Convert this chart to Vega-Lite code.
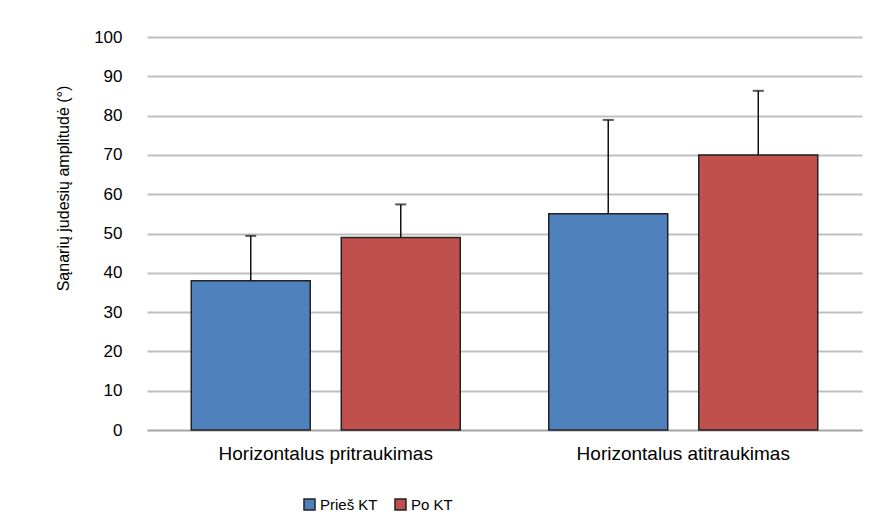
{
  "$schema": "https://vega.github.io/schema/vega-lite/v6.json",
  "width": 715,
  "height": 393,
  "autosize": "none",
  "padding": {"left": 147, "top": 37, "right": 18, "bottom": 102},
  "background": "white",
  "config": {
    "view": {"stroke": null},
    "font": "Liberation Sans",
    "axisY": {
      "values": [0, 10, 20, 30, 40, 50, 60, 70, 80, 90, 100],
      "tickCount": 20,
      "labelOverlap": false,
      "labelFontSize": 17,
      "labelColor": "#000000",
      "labelPadding": 25,
      "ticks": false,
      "domain": false,
      "grid": true,
      "gridColor": "#BFBFBF",
      "gridWidth": 2,
      "titleFontSize": 16,
      "titleFontWeight": "normal",
      "titleColor": "#000000",
      "titlePadding": 22,
      "titleY": 151
    }
  },
  "data": {
    "values": [
      {"group": "Horizontalus pritraukimas", "series": "Prieš KT", "value": 38, "upper": 49.4},
      {"group": "Horizontalus pritraukimas", "series": "Po KT", "value": 49, "upper": 57.4},
      {"group": "Horizontalus atitraukimas", "series": "Prieš KT", "value": 55, "upper": 78.9},
      {"group": "Horizontalus atitraukimas", "series": "Po KT", "value": 70, "upper": 86.3}
    ]
  },
  "encoding": {
    "x": {
      "field": "group",
      "type": "nominal",
      "sort": ["Horizontalus pritraukimas", "Horizontalus atitraukimas"],
      "scale": {"paddingInner": 0, "paddingOuter": 0},
      "axis": {
        "title": null,
        "labelAngle": 0,
        "labelFontSize": 19,
        "labelColor": "#000000",
        "labelPadding": 14,
        "labelLimit": 0,
        "ticks": false,
        "domain": true,
        "domainColor": "#A6A6A6",
        "domainWidth": 1.5,
        "grid": false
      }
    },
    "xOffset": {
      "field": "series",
      "type": "nominal",
      "sort": ["Prieš KT", "Po KT"],
      "scale": {"paddingInner": 0.207, "paddingOuter": 0.295}
    }
  },
  "layer": [
    {
      "mark": {"type": "bar", "stroke": "#222222", "strokeWidth": 1.5},
      "encoding": {
        "y": {
          "field": "value",
          "type": "quantitative",
          "scale": {"domain": [0, 100], "nice": false},
          "axis": {
            "title": "Sąnarių judesių amplitudė (°)",
            "values": [0, 10, 20, 30, 40, 50, 60, 70, 80, 90, 100],
            "tickCount": 20
          }
        },
        "color": {
          "field": "series",
          "type": "nominal",
          "sort": ["Prieš KT", "Po KT"],
          "scale": {"domain": ["Prieš KT", "Po KT"], "range": ["#4F81BD", "#C0504D"]},
          "legend": {
            "title": null,
            "orient": "none",
            "direction": "horizontal",
            "legendX": 155,
            "legendY": 460,
            "symbolType": "square",
            "symbolSize": 121,
            "symbolStrokeColor": "#222222",
            "symbolStrokeWidth": 1.5,
            "symbolOpacity": 1,
            "labelFontSize": 15,
            "labelColor": "#000000",
            "columnPadding": 14,
            "labelOffset": 3
          }
        }
      }
    },
    {
      "mark": {"type": "rule", "color": "#111111", "strokeWidth": 1.5},
      "encoding": {
        "y": {"field": "value", "type": "quantitative"},
        "y2": {"field": "upper"}
      }
    },
    {
      "mark": {"type": "tick", "color": "#111111", "thickness": 2, "size": 11, "orient": "horizontal"},
      "encoding": {
        "y": {"field": "upper", "type": "quantitative"}
      }
    }
  ]
}
